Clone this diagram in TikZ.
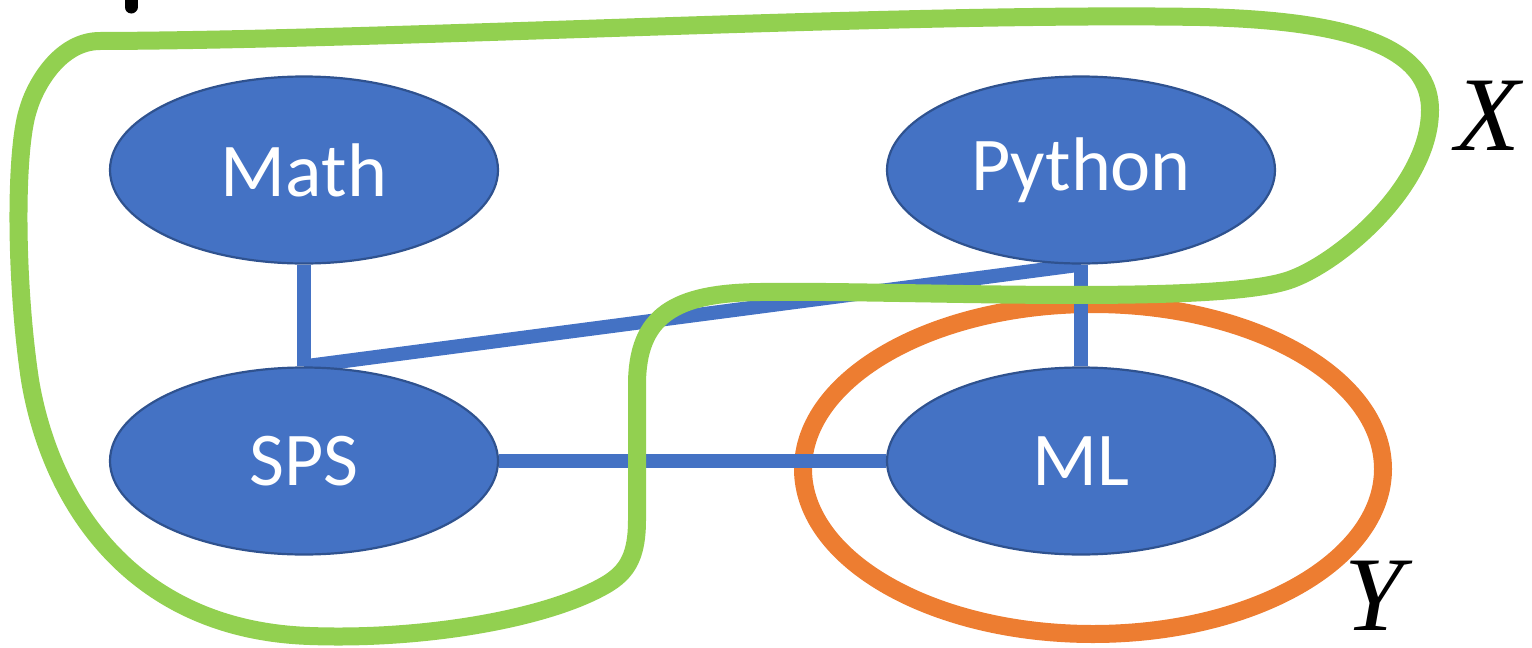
\documentclass[tikz,border=0pt]{standalone}
\usepackage{fontspec}
\setmainfont{Carlito}
\newfontfamily\serifit{Liberation Serif}
\usetikzlibrary{shapes.geometric,backgrounds}

\definecolor{nodeblue}{HTML}{4472C4}
\definecolor{nodeedge}{HTML}{2F528F}
\definecolor{setgreen}{HTML}{92D050}
\definecolor{setorange}{HTML}{ED7D31}

\tikzset{
  topic/.style={ellipse, fill=nodeblue, draw=nodeedge, line width=2.2pt,
    minimum width=388pt, minimum height=187pt, inner sep=0pt,
    text=white, font=\fontsize{76}{90}\selectfont},
  link/.style={draw=nodeblue, line width=14pt},
  setline/.style={line width=18pt},
  setlabel/.style={inner sep=0pt, font=\serifit\itshape\fontsize{106}{120}\selectfont}
}

\begin{document}
\begin{tikzpicture}[x=1pt, y=-1pt]
  \useasboundingbox (0,0) rectangle (1532,648);

  % topic nodes
  \node[topic] (math)   at (304,170) {Math};
  \node[topic] (python) at (1081,170) {Python};
  \node[topic] (sps)    at (304,461) {SPS};
  \node[topic] (ml)     at (1081,461) {ML};

  \begin{pgfonlayer}{background}
    % set Y
    \draw[setorange, setline] (1093,469) ellipse [x radius=290pt, y radius=165pt];
    % dependency links
    \draw[link] (math.south) -- (sps.north);
    \draw[link] (python.south) -- (sps.north);
    \draw[link] (python.south) -- (ml.north);
    \draw[link] (sps.east) -- (ml.west);
  \end{pgfonlayer}

  % set X
  \draw[setgreen, setline, line join=round]
    (100,41) .. controls (400,40) and (900,12) .. (1200,17)
    .. controls (1330,20) and (1430,40) .. (1430,110)
    .. controls (1430,190) and (1330,270) .. (1283,282)
    .. controls (1200,305) and (900,290) .. (760,292)
    .. controls (675,293) and (637,315) .. (637,385)
    -- (637,520)
    .. controls (637,560) and (625,575) .. (600,588)
    .. controls (540,620) and (420,640) .. (310,636)
    .. controls (130,630) and (50,500) .. (30,380)
    .. controls (15,280) and (15,150) .. (28,110)
    .. controls (35,85) and (60,41) .. cycle;

  % set labels
  \node[setlabel] (xlabel) at (1488,116) {X};
  \node[setlabel] (ylabel) at (1374,596) {Y};

  % mark at the top edge
  \coordinate (marktop) at (131,-12);
  \coordinate (markend) at (131,7);
  \draw[line width=13pt, line cap=round] (marktop) -- (markend);
\end{tikzpicture}
\end{document}
